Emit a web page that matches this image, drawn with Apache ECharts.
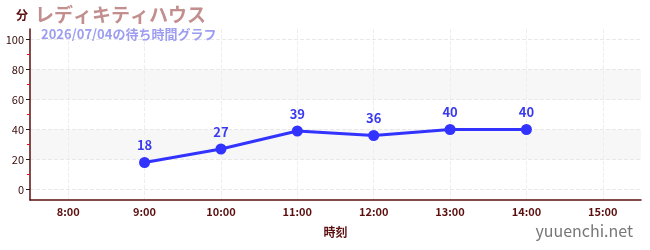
<!DOCTYPE html>
<html>
<head>
<meta charset="utf-8">
<script src="https://cdn.jsdelivr.net/npm/echarts@6/dist/echarts.min.js"></script>
<style>
  html, body { margin: 0; padding: 0; background: #fff; }
</style>
</head>
<body>
<div id="wait-chart" style="width: 650px; height: 250px"></div>
<script>
// 時刻 (x軸カテゴリ)
const hours = ['8:00', '9:00', '10:00', '11:00', '12:00', '13:00', '14:00', '15:00']
// 待ち時間 (分)
const waitMinutes = [null, 18, 27, 39, 36, 40, 40, null]
// 目盛り
const yTicks = [0, 20, 40, 60, 80, 100]
const yMinorTicks = [10, 30, 50, 70, 90]
// 背景の帯
const bands = [[20, 40], [60, 80]]

const font = '"Noto Sans CJK JP", "Noto Sans", sans-serif'
const axisColor = '#5c0f0f'

const chart = echarts.init(document.getElementById('wait-chart'))
const option = {
  animation: false,
  title: [
    {
      text: 'レディキティハウス',
      left: 30,
      top: 0,
      textStyle: { fontFamily: font, fontSize: 19, fontWeight: 'bold', color: '#c28e8e' }
    },
    {
      text: '2026/07/04の待ち時間グラフ',
      left: 36,
      top: 23,
      textStyle: { fontFamily: font, fontSize: 13, fontWeight: 'bold', color: '#9d9df2' }
    },
    {
      text: 'yuuenchi.net',
      right: 12,
      bottom: 6,
      textStyle: { fontFamily: font, fontSize: 16, fontWeight: 'normal', color: '#777' }
    }
  ],
  grid: {
    left: 30,
    right: 9,
    top: 29,
    bottom: 50
  },
  xAxis: {
    type: 'category',
    data: hours,
    boundaryGap: true,
    name: '時刻',
    nameLocation: 'middle',
    nameGap: 26,
    nameTextStyle: { fontFamily: font, fontSize: 12, fontWeight: 'bold', color: axisColor },
    axisLine: { onZero: false, lineStyle: { color: axisColor, width: 1.5 } },
    axisTick: { alignWithLabel: true, length: 4, lineStyle: { color: axisColor } },
    axisLabel: { fontFamily: font, fontSize: 11, fontWeight: 'bold', color: axisColor, margin: 6 },
    splitLine: {
      show: true,
      alignWithLabel: true,
      lineStyle: { type: 'dashed', color: '#eeeeee' }
    }
  },
  yAxis: [
    {
      type: 'value',
      min: -7,
      max: 107,
      name: '分',
      nameLocation: 'end',
      nameGap: 8,
      nameTextStyle: { fontFamily: font, fontSize: 12, fontWeight: 'bold', color: axisColor, align: 'right', padding: [0, 2, 0, 0] },
      axisLine: { show: true, onZero: false, lineStyle: { color: axisColor, width: 1.5 } },
      axisTick: { show: true, customValues: yTicks, length: 4, lineStyle: { color: '#222' } },
      axisLabel: { customValues: yTicks, fontFamily: font, fontSize: 11, color: '#3a0a0a', margin: 6 },
      splitLine: { show: false },
      splitArea: { show: false }
    },
    {
      type: 'value',
      min: -7,
      max: 107,
      position: 'left',
      axisLine: { show: false, onZero: false },
      axisTick: { show: true, customValues: yMinorTicks, length: 3, lineStyle: { color: '#e01010' } },
      axisLabel: { show: false },
      splitLine: { show: false }
    }
  ],
  series: [
    {
      type: 'line',
      z: 3,
      data: waitMinutes,
      symbol: 'circle',
      symbolSize: 11,
      connectNulls: false,
      lineStyle: { color: '#3333ff', width: 3 },
      itemStyle: { color: '#3333ff' },
      label: {
        show: true,
        position: 'top',
        distance: 5,
        fontFamily: font,
        fontSize: 13,
        fontWeight: 'bold',
        color: '#3a3aee'
      },
      markArea: {
        silent: true,
        z: -1,
        itemStyle: { color: '#f7f7f7' },
        data: bands.map(b => [{ yAxis: b[0] }, { yAxis: b[1] }])
      },
      markLine: {
        silent: true,
        z: 0,
        symbol: 'none',
        label: { show: false },
        lineStyle: { type: 'dashed', color: '#e8e8e8', width: 1 },
        data: yTicks.map(v => ({ yAxis: v }))
      }
    }
  ]
}
chart.setOption(option)
</script>
</body>
</html>
